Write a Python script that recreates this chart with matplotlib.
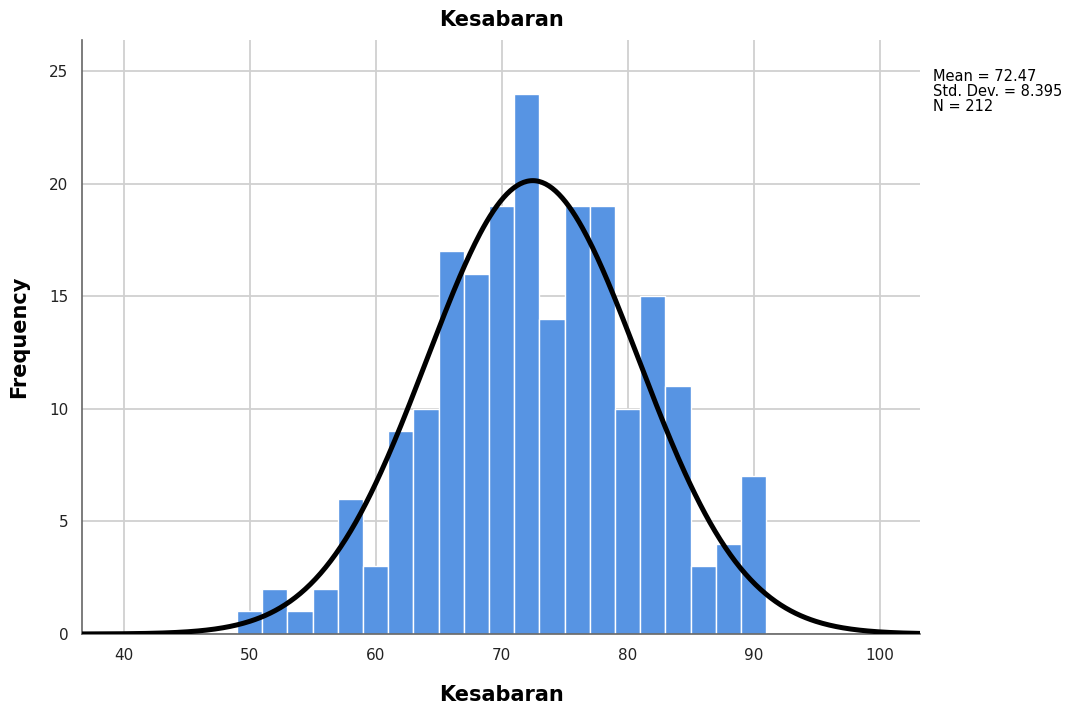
import numpy as np
import matplotlib.pyplot as plt

# histogram of Kesabaran, bin width 2
bin_edges = [49, 51, 53, 55, 57, 59, 61, 63, 65, 67, 69, 71, 73, 75, 77, 79, 81, 83, 85, 87, 89, 91]
counts = [1, 2, 1, 2, 6, 3, 9, 10, 17, 16, 19, 24, 14, 19, 19, 10, 15, 11, 3, 4, 7]
mean = 72.47
std_dev = 8.395
n_obs = 212

x_ticks = [40, 50, 60, 70, 80, 90, 100]
y_ticks = [0, 5, 10, 15, 20, 25]

fig = plt.figure(figsize=(10.75, 7.09), dpi=100)
ax = fig.add_axes([0.0763, 0.1058, 0.7795, 0.8378])

lefts = bin_edges[:-1]
widths = np.diff(bin_edges)
ax.bar(lefts, counts, width=widths, align="edge", color="#5794e3",
       edgecolor="white", linewidth=1.0, zorder=2)

# normal curve scaled to counts
xmin, xmax = 36.7, 103.2
xs = np.linspace(xmin, xmax, 500)
bw = bin_edges[1] - bin_edges[0]
ys = n_obs * bw / (std_dev * np.sqrt(2 * np.pi)) * np.exp(-0.5 * ((xs - mean) / std_dev) ** 2)
ax.plot(xs, ys, color="black", linewidth=3.6, zorder=3, solid_capstyle="butt")

ax.set_xlim(xmin, xmax)
ax.set_ylim(0, 26.4)
ax.set_xticks(x_ticks)
ax.set_yticks(y_ticks)
ax.grid(True, color="#d0d0d0", linewidth=1.3, zorder=0)
ax.set_axisbelow(True)
ax.tick_params(length=0, labelsize=11, colors="#222222", pad=10)

for side in ["top", "right"]:
    ax.spines[side].set_visible(False)
for side in ["left", "bottom"]:
    ax.spines[side].set_color("#666666")
    ax.spines[side].set_linewidth(1.2)

ax.set_title("Kesabaran", fontsize=15, fontweight="bold", pad=10)
ax.set_xlabel("Kesabaran", fontsize=15, fontweight="bold", labelpad=16)
ax.set_ylabel("Frequency", fontsize=15, fontweight="bold", labelpad=14)

fig.text(0.868, 0.903, f"Mean = {mean}\nStd. Dev. = {std_dev}\nN = {n_obs}",
         fontsize=10.5, va="top", ha="left", linespacing=1.0)

fig.savefig("out.png", dpi=100)
plt.close(fig)
